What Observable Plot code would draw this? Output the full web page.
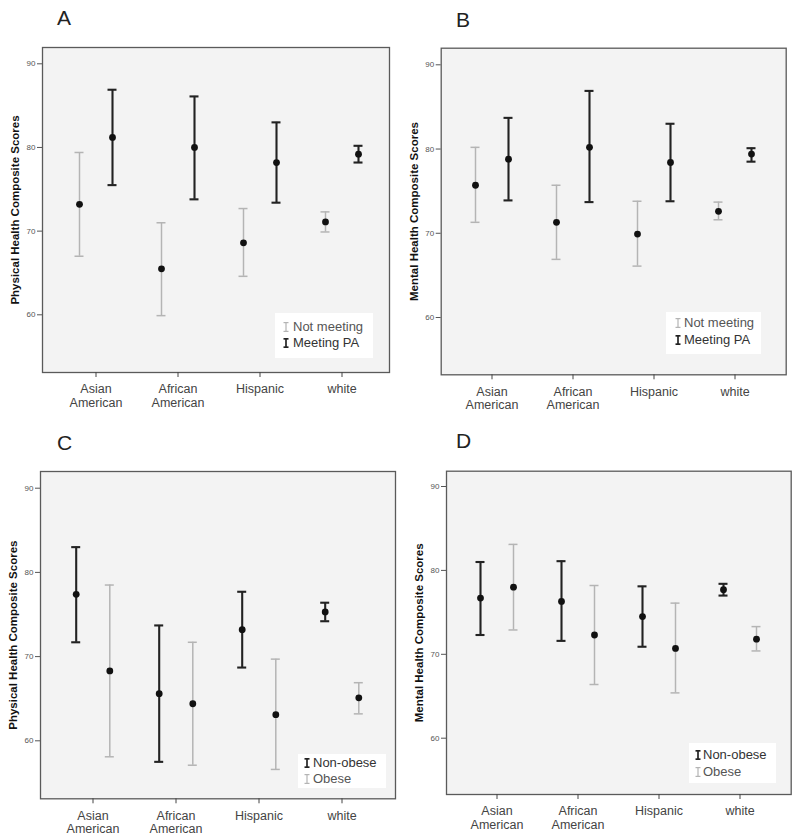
<!DOCTYPE html>
<html><head><meta charset="utf-8">
<script src="https://cdn.jsdelivr.net/npm/d3@7"></script>
<script src="https://cdn.jsdelivr.net/npm/@observablehq/plot@0.6"></script>
<style>
body{margin:0;background:#fff;font-family:"Liberation Sans",Arial,sans-serif;}
#root{position:relative;width:800px;height:839px;overflow:hidden;background:#fff;}
.letter{position:absolute;font-size:21px;color:#222;line-height:1;}
.plot{position:absolute;}
.legend{position:absolute;background:#fff;}
.row{position:absolute;font-size:13px;line-height:16px;height:16px;white-space:nowrap;}
.row svg{position:absolute;top:3px;}
</style></head><body><div id="root"></div><script>
// ---- data ----
const categories = ["Asian\nAmerican", "African\nAmerican", "Hispanic", "white"];
const yTicks = [60, 70, 80, 90];

const paLabels = ["Not meeting", "Meeting PA"];
const obLabels = ["Non-obese", "Obese"];

// Panel A: Physical health by PA
const A_notMeeting_mean = [73.2, 65.5, 68.6, 71.1];
const A_notMeeting_low  = [67.0, 59.9, 64.6, 69.9];
const A_notMeeting_high = [79.4, 71.0, 72.7, 72.3];
const A_meeting_mean = [81.2, 80.0, 78.2, 79.2];
const A_meeting_low  = [75.5, 73.8, 73.4, 78.2];
const A_meeting_high = [86.9, 86.1, 83.0, 80.2];

// Panel B: Mental health by PA
const B_notMeeting_mean = [75.7, 71.3, 69.9, 72.6];
const B_notMeeting_low  = [71.3, 66.9, 66.1, 71.6];
const B_notMeeting_high = [80.2, 75.7, 73.8, 73.7];
const B_meeting_mean = [78.8, 80.2, 78.4, 79.4];
const B_meeting_low  = [73.9, 73.7, 73.8, 78.5];
const B_meeting_high = [83.7, 86.9, 83.0, 80.1];

// Panel C: Physical health by obesity
const C_nonObese_mean = [77.4, 65.6, 73.2, 75.3];
const C_nonObese_low  = [71.7, 57.5, 68.7, 74.2];
const C_nonObese_high = [83.0, 73.7, 77.7, 76.4];
const C_obese_mean = [68.3, 64.4, 63.1, 65.1];
const C_obese_low  = [58.1, 57.1, 56.6, 63.2];
const C_obese_high = [78.5, 71.7, 69.7, 66.9];

// Panel D: Mental health by obesity
const D_nonObese_mean = [76.7, 76.3, 74.5, 77.7];
const D_nonObese_low  = [72.3, 71.6, 70.9, 77.0];
const D_nonObese_high = [81.0, 81.1, 78.1, 78.4];
const D_obese_mean = [78.0, 72.3, 70.7, 71.8];
const D_obese_low  = [72.9, 66.4, 65.4, 70.4];
const D_obese_high = [83.1, 78.2, 76.1, 73.3];

// ---- styles ----
const GRAY = {stroke: "#b4b4b4", w: 1.5, text: "#555"};
const BLACK = {stroke: "#222", w: 2.1, text: "#333"};

const root = document.getElementById("root");

function rowsOf(mean, low, high) {
  return categories.map((c, i) => ({cat: c, mean: mean[i], low: low[i], high: high[i]}));
}

function drawPanel(cfg) {
  const {left, top, width, height, mL, mR, mT, mB, y60, y90, ticks, dx, ylabel, series} = cfg;
  const step = (ticks[3] - ticks[0]) / 3;
  const capW = 9;
  const pi = 1 - capW / step;
  const marks = [Plot.frame({fill: "#f3f3f3", stroke: null})];
  series.forEach((s, j) => {
    const d = j === 0 ? -dx : dx;
    const st = s.style;
    marks.push(Plot.ruleX(s.rows, {x: "cat", y1: "low", y2: "high", dx: d, stroke: st.stroke, strokeWidth: st.w}));
    marks.push(Plot.tickY(s.rows, {x: "cat", y: "low", dx: d, stroke: st.stroke, strokeWidth: st.w}));
    marks.push(Plot.tickY(s.rows, {x: "cat", y: "high", dx: d, stroke: st.stroke, strokeWidth: st.w}));
    marks.push(Plot.dot(s.rows, {x: "cat", y: "mean", dx: d, r: 3.4, fill: "#111", stroke: null}));
  });
  marks.push(Plot.frame({stroke: "#5a5a5a", strokeWidth: 1.3}));
  marks.push(Plot.axisY(yTicks, {tickSize: 5, tickPadding: 2, fontSize: 8, label: null, color: "#555"}));
  marks.push(Plot.axisX({tickSize: 5, tickPadding: 6, fontSize: 12.5, label: null, color: "#444", lineHeight: 1.1}));
  marks.push(Plot.text([ylabel], {text: d => d, frameAnchor: "left", textAnchor: "middle", lineAnchor: "middle", dx: -27, rotate: -90, fontSize: 11.5, fontWeight: "bold", fill: "#111"}));
  const svg = Plot.plot({
    width, height,
    marginLeft: mL, marginRight: mR, marginTop: mT, marginBottom: mB,
    style: {fontFamily: "'Liberation Sans', Arial, sans-serif", background: "transparent", overflow: "visible"},
    x: {type: "band", domain: categories, range: [ticks[0] - step / 2, ticks[3] + step / 2], paddingInner: pi, paddingOuter: pi / 2, align: 0.5},
    y: {domain: [60, 90], range: [y60, y90]},
    marks
  });
  const div = document.createElement("div");
  div.className = "plot";
  div.style.left = left + "px";
  div.style.top = top + "px";
  div.appendChild(svg);
  root.appendChild(div);
}

function icon(style) {
  const w = 6, h = 10;
  const sw = style.w * 0.8;
  return `<svg width="${w}" height="${h}" viewBox="0 0 ${w} ${h}"><g stroke="${style.stroke}" stroke-width="${sw}"><line x1="${w/2}" x2="${w/2}" y1="0.5" y2="${h-0.5}"/><line x1="0.5" x2="${w-0.5}" y1="${sw/2}" y2="${sw/2}"/><line x1="0.5" x2="${w-0.5}" y1="${h-sw/2}" y2="${h-sw/2}"/></g></svg>`;
}

function drawLegend(cfg) {
  const {left, top, width, height, rows} = cfg;
  const lg = document.createElement("div");
  lg.className = "legend";
  Object.assign(lg.style, {left: left + "px", top: top + "px", width: width + "px", height: height + "px"});
  rows.forEach(r => {
    const row = document.createElement("div");
    row.className = "row";
    row.style.top = (r.cy - 8) + "px";
    row.style.left = r.ix + "px";
    row.innerHTML = icon(r.style) + `<span style="position:absolute;left:${r.tx - r.ix}px;color:${r.style.text}">${r.label}</span>`;
    lg.appendChild(row);
  });
  root.appendChild(lg);
}

function drawLetter(t, left, top) {
  const el = document.createElement("div");
  el.className = "letter";
  el.textContent = t;
  el.style.left = left + "px";
  el.style.top = top + "px";
  root.appendChild(el);
}

// Panel A
drawLetter("A", 57, 7);
drawPanel({
  left: 0, top: 35, width: 400, height: 385, mL: 42, mR: 11, mT: 12, mB: 48,
  y60: 279.3, y90: 28.3, ticks: [94, 177, 259, 342], dx: 16.5,
  ylabel: "Physical Health Composite Scores",
  series: [
    {rows: rowsOf(A_notMeeting_mean, A_notMeeting_low, A_notMeeting_high), style: GRAY},
    {rows: rowsOf(A_meeting_mean, A_meeting_low, A_meeting_high), style: BLACK}
  ]
});
drawLegend({left: 275, top: 313, width: 98, height: 45, rows: [
  {label: paLabels[0], style: GRAY, cy: 14, ix: 8, tx: 18},
  {label: paLabels[1], style: BLACK, cy: 30, ix: 8, tx: 18}
]});

// Panel B
drawLetter("B", 456, 9);
drawPanel({
  left: 400, top: 35, width: 400, height: 385, mL: 40.7, mR: 14.3, mT: 12.7, mB: 45.7,
  y60: 282, y90: 29.3, ticks: [90.5, 172, 253.5, 334.5], dx: 16.5,
  ylabel: "Mental Health Composite Scores",
  series: [
    {rows: rowsOf(B_notMeeting_mean, B_notMeeting_low, B_notMeeting_high), style: GRAY},
    {rows: rowsOf(B_meeting_mean, B_meeting_low, B_meeting_high), style: BLACK}
  ]
});
drawLegend({left: 666, top: 312, width: 95, height: 42, rows: [
  {label: paLabels[0], style: GRAY, cy: 11, ix: 9, tx: 18},
  {label: paLabels[1], style: BLACK, cy: 28, ix: 9, tx: 18}
]});

// Panel C
drawLetter("C", 57, 432);
drawPanel({
  left: 0, top: 455, width: 400, height: 384, mL: 40, mR: 5, mT: 16, mB: 40.7,
  y60: 285.3, y90: 32.7, ticks: [92.2, 175.7, 259.2, 342.7], dx: 16.8,
  ylabel: "Physical Health Composite Scores",
  series: [
    {rows: rowsOf(C_nonObese_mean, C_nonObese_low, C_nonObese_high), style: BLACK},
    {rows: rowsOf(C_obese_mean, C_obese_low, C_obese_high), style: GRAY}
  ]
});
drawLegend({left: 298, top: 754, width: 88, height: 34, rows: [
  {label: obLabels[0], style: BLACK, cy: 9, ix: 6, tx: 15},
  {label: obLabels[1], style: GRAY, cy: 25, ix: 6, tx: 15}
]});

// Panel D
drawLetter("D", 456, 430);
drawPanel({
  left: 400, top: 455, width: 400, height: 384, mL: 46, mR: 9.3, mT: 15.7, mB: 45,
  y60: 282.7, y90: 31, ticks: [96.2, 177.5, 259.2, 340.5], dx: 16.5,
  ylabel: "Mental Health Composite Scores",
  series: [
    {rows: rowsOf(D_nonObese_mean, D_nonObese_low, D_nonObese_high), style: BLACK},
    {rows: rowsOf(D_obese_mean, D_obese_low, D_obese_high), style: GRAY}
  ]
});
drawLegend({left: 689, top: 743, width: 87, height: 40, rows: [
  {label: obLabels[0], style: BLACK, cy: 12, ix: 6, tx: 14},
  {label: obLabels[1], style: GRAY, cy: 29, ix: 6, tx: 14}
]});
</script></body></html>
